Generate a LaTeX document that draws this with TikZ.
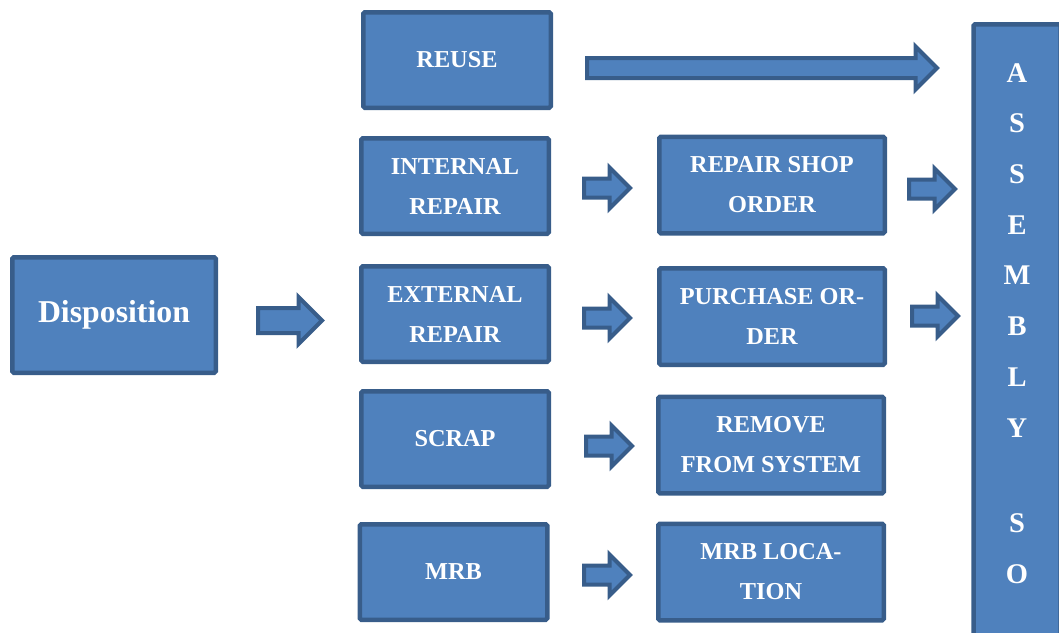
\documentclass[tikz,border=0pt]{standalone}
\usepackage{fontspec}
\setmainfont{Liberation Serif}
\usetikzlibrary{positioning,shapes.arrows}
\definecolor{boxfill}{HTML}{4F81BD}
\definecolor{boxedge}{HTML}{385D8A}
\tikzset{
    every node/.style={font=\bfseries},
    stage/.style={rectangle,rounded corners=1.5pt,draw=boxedge,fill=boxfill,line width=4.5pt,text=white,align=center,inner sep=0pt,
        font=\fontsize{24.3}{40}\selectfont\bfseries,minimum width=187.5pt,minimum height=95.5pt},
    target/.style={stage,minimum width=225.5pt,minimum height=96.5pt},
    fatarrow/.style={single arrow,anchor=tail,draw=boxedge,fill=boxfill,line width=4pt,inner sep=0pt,minimum width=0pt,
        text height=15pt,text depth=0pt,single arrow head extend=11pt,minimum height=46pt},
    asmletters/.style={text=white,align=center,inner sep=0pt,font=\fontsize{28.5}{50.7}\selectfont\bfseries}
}
\begin{document}
\begin{tikzpicture}[x=1pt,y=-1pt]
    \useasboundingbox (0,0) rectangle (1059,632);
    % source
    \node[stage,minimum width=203.5pt,minimum height=115.5pt,font=\fontsize{31.8}{36}\selectfont\bfseries] (disp) at (114,315) {Disposition};
    % dispositions
    \node[stage] (reuse) at (457,60) {REUSE};
    \node[stage] (intrep) at (455,186) {INTERNAL\\REPAIR};
    \node[stage] (extrep) at (455,314) {EXTERNAL\\REPAIR};
    \node[stage] (scrap) at (455,439) {SCRAP};
    \node[stage] (mrb) at (453.5,572) {MRB};
    % follow-up actions
    \node[target] (shop) at (772,185) {REPAIR SHOP\\ORDER};
    \node[target] (po) at (772,316.5) {PURCHASE OR-\\DER};
    \node[target] (remove) at (771,445) {REMOVE\\FROM SYSTEM};
    \node[target] (mrbloc) at (771,572) {MRB LOCA-\\TION};
    % assembly bar
    \node[stage,minimum width=87pt,minimum height=622pt,anchor=north] (asm) at (1017,22) {};
    \node[asmletters] (asmtext) at (1017,323.5) {A\\S\\S\\E\\M\\B\\L\\Y\\[45pt]S\\O};
    % block arrows
    \node[fatarrow,text height=21pt,single arrow head extend=11pt,minimum height=64pt] (a0) at (256,320.5) {};
    \node[fatarrow,text height=16pt,single arrow head extend=11.5pt,minimum height=350pt] (a1) at (585,68) {};
    \node[fatarrow] (a2) at (582,188) {};
    \node[fatarrow] (a3) at (907,189) {};
    \node[fatarrow] (a4) at (582,318) {};
    \node[fatarrow] (a5) at (910,316) {};
    \node[fatarrow] (a6) at (584,446) {};
    \node[fatarrow] (a7) at (582,575) {};
\end{tikzpicture}
\end{document}
